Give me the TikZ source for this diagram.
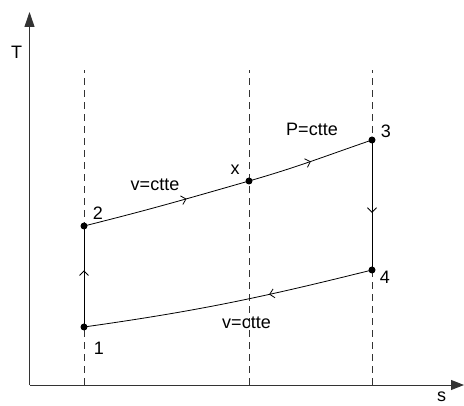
\documentclass[tikz,border=0pt]{standalone}
\usepackage{fontspec}
\setmainfont{Liberation Sans}
\usetikzlibrary{arrows.meta,decorations.markings}
\begin{document}
\begin{tikzpicture}[x=1pt,y=1pt,
  axis/.style={line width=0.9pt,draw=black!80},
  guide/.style={line width=0.7pt,draw=black!80,dash pattern=on 7pt off 5pt},
  proc/.style={line width=0.8pt},
  dot/.style={circle,fill=black,inner sep=0pt,minimum size=7pt},
  lbl/.style={font=\fontsize{18}{20}\selectfont,inner sep=0pt},
  midarrow/.style={postaction={decorate},decoration={markings,mark=at position #1 with {\arrow{Straight Barb[length=4.5pt,width=9pt]}}}}
]
\useasboundingbox (0,0) rectangle (464,406);
% axes
\coordinate (O) at (29.5,21);
\coordinate (Ty) at (29.5,394);
\coordinate (Sx) at (464,21);
\draw[axis,-{Triangle[length=15pt,width=10pt]}] (O) -- (Ty);
\draw[axis,-{Triangle[length=13pt,width=10pt]}] (O) -- (Sx);
\node[lbl] (T) at (16.5,353.5) {T};
\node[lbl] (s) at (441.5,9) {s};
% guides
\coordinate (g1b) at (84,21);  \coordinate (g1t) at (84,336);
\coordinate (g2b) at (249,21); \coordinate (g2t) at (249,336);
\coordinate (g3b) at (372,21); \coordinate (g3t) at (372,336);
\draw[guide] (g1b) -- (g1t);
\draw[guide] (g2b) -- (g2t);
\draw[guide] (g3b) -- (g3t);
% states
\node[dot] (p1) at (84,79) {};
\node[dot] (p2) at (84,180) {};
\node[dot] (px) at (249,225) {};
\node[dot] (p3) at (372,266) {};
\node[dot] (p4) at (372,136) {};
% processes
\draw[proc,midarrow=0.56] (p1.center) -- (p2.center);
\draw[proc,midarrow=0.62] (p2.center) to[out=14,in=196] (px.center);
\draw[proc,midarrow=0.5] (px.center) to[out=16,in=199] (p3.center);
\draw[proc,midarrow=0.56] (p3.center) -- (p4.center);
\draw[proc,midarrow=0.36] (p4.center) to[out=194,in=8] (p1.center);
% labels
\node[lbl] (l1) at (99,58) {1};
\node[lbl] (l2) at (98,192.5) {2};
\node[lbl] (lx) at (235,236.5) {x};
\node[lbl] (l3) at (386,275) {3};
\node[lbl] (l4) at (385,129) {4};
\node[lbl] (va) at (155,221.5) {v=ctte};
\node[lbl] (pa) at (312,276.5) {P=ctte};
\node[lbl] (vb) at (246.5,83.5) {v=ctte};
\end{tikzpicture}
\end{document}
